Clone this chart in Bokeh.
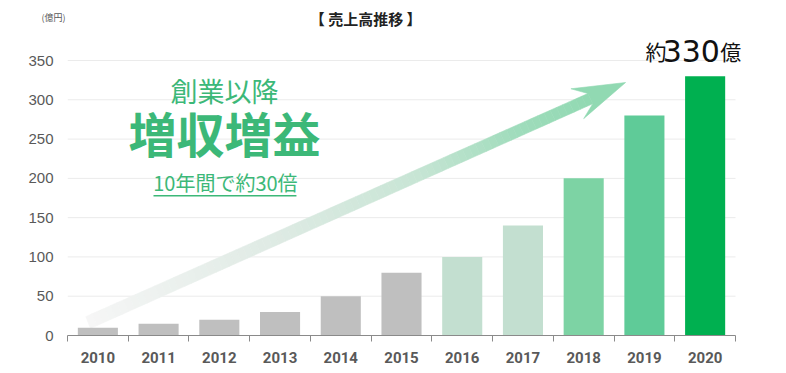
from bokeh.plotting import figure
from bokeh.models import Range1d, FixedTicker, Label, ColumnDataSource, LinearAxis
from bokeh.embed import file_html
from bokeh.resources import INLINE

# ---- data ----
years = ["2010", "2011", "2012", "2013", "2014", "2015", "2016", "2017", "2018", "2019", "2020"]
sales = [10, 15, 20, 30, 50, 80, 100, 140, 200, 280, 330]
bar_colors = ["#bfbfbf", "#bfbfbf", "#bfbfbf", "#bfbfbf", "#bfbfbf", "#bfbfbf",
              "#c3dfd0", "#c3dfd0", "#7dd3a4", "#5fcb98", "#00b050"]
y_ticks = [0, 50, 100, 150, 200, 250, 300, 350]

title_text = "【 売上高推移 】"
unit_text = "(億円)"
unit_pos = 405
line1 = "創業以降"
line2 = "増収増益"
line3 = "10年間で約30倍"
callout = ["約", "330", "億"]

# arrow decoration (data units: x = category index, y = value)
arrow_upper_tail = (-0.20, 24.0)
arrow_lower_tail = (-0.12, 9.0)
arrow_upper_notch = (8.07, 308.0)
arrow_lower_notch = (8.15, 295.0)
arrow_upper_wing = (7.79, 314.0)
arrow_lower_wing = (8.00, 276.0)
arrow_tip = (8.69, 322.0)
arrow_stops = [(0.0, (246, 246, 246)), (0.35, (224, 235, 229)), (0.65, (200, 229, 213)),
               (0.85, (160, 220, 188)), (1.0, (145, 217, 178))]

GREEN = "#3cb878"
JP = "Noto Sans CJK JP"

x_lo, x_hi = -0.5, len(years) - 0.5

p = figure(width=770, height=365, output_backend="svg", toolbar_location=None,
           x_range=Range1d(x_lo, 10.747), y_range=Range1d(0, 416.2),
           min_border_left=67, min_border_right=20, min_border_top=8, min_border_bottom=30)
p.outline_line_color = None
p.background_fill_color = "white"

# grid (manual so it stops at the last category)
p.xgrid.visible = False
p.ygrid.visible = False
p.segment(x0=[x_lo] * (len(y_ticks) - 1), x1=[x_hi] * (len(y_ticks) - 1),
          y0=y_ticks[1:], y1=y_ticks[1:], line_color="#ebebeb", line_width=1)

# y axis
p.yaxis.ticker = FixedTicker(ticks=y_ticks)
p.yaxis.axis_line_color = None
p.yaxis.major_tick_line_color = None
p.yaxis.major_tick_out = 0
p.yaxis.minor_tick_line_color = None
p.yaxis.major_label_text_font = "Liberation Sans"
p.yaxis.major_label_text_font_size = "15px"
p.yaxis.major_label_text_color = "#595959"
p.yaxis.major_label_standoff = 14

# unit label as an outer left axis
unit_axis = LinearAxis(ticker=FixedTicker(ticks=[unit_pos]),
                       major_label_overrides={unit_pos: unit_text})
unit_axis.axis_line_color = None
unit_axis.major_tick_line_color = None
unit_axis.major_tick_out = 0
unit_axis.minor_tick_line_color = None
unit_axis.major_label_text_font = JP
unit_axis.major_label_text_font_size = "9px"
unit_axis.major_label_text_color = "#595959"
unit_axis.major_label_standoff = -40
p.add_layout(unit_axis, "left")

# x axis
p.xaxis.ticker = FixedTicker(ticks=list(range(len(years))),
                             minor_ticks=[i - 0.5 for i in range(len(years) + 1)])
p.xaxis.bounds = (x_lo, x_hi)
p.xaxis.major_label_overrides = {i: y for i, y in enumerate(years)}
p.xaxis.major_tick_line_color = None
p.xaxis.major_tick_out = 0
p.xaxis.minor_tick_line_color = "#8a8a8a"
p.xaxis.minor_tick_out = 6
p.xaxis.minor_tick_in = 0
p.xaxis.axis_line_color = "#8a8a8a"
p.xaxis.major_label_text_font = "Roboto"
p.xaxis.major_label_text_font_style = "bold"
p.xaxis.major_label_text_font_size = "15px"
p.xaxis.major_label_text_color = "#595959"
p.xaxis.major_label_standoff = 10


# arrow with gradient
def lerp(a, b, t):
    return a + (b - a) * t


def color_at(t):
    for (t0, c0), (t1, c1) in zip(arrow_stops[:-1], arrow_stops[1:]):
        if t0 <= t <= t1:
            f = (t - t0) / (t1 - t0)
            r, g, b = (int(round(lerp(c0[k], c1[k], f))) for k in range(3))
            return "#%02x%02x%02x" % (r, g, b)
    c = arrow_stops[-1][1]
    return "#%02x%02x%02x" % c


N = 80
xs, ys, cols = [], [], []
for i in range(N):
    t0, t1 = i / N, (i + 1) / N
    ux0 = lerp(arrow_upper_tail[0], arrow_upper_notch[0], t0)
    uy0 = lerp(arrow_upper_tail[1], arrow_upper_notch[1], t0)
    ux1 = lerp(arrow_upper_tail[0], arrow_upper_notch[0], t1)
    uy1 = lerp(arrow_upper_tail[1], arrow_upper_notch[1], t1)
    lx0 = lerp(arrow_lower_tail[0], arrow_lower_notch[0], t0)
    ly0 = lerp(arrow_lower_tail[1], arrow_lower_notch[1], t0)
    lx1 = lerp(arrow_lower_tail[0], arrow_lower_notch[0], t1)
    ly1 = lerp(arrow_lower_tail[1], arrow_lower_notch[1], t1)
    xs.append([ux0, ux1, lx1, lx0])
    ys.append([uy0, uy1, ly1, ly0])
    cols.append(color_at((t0 + t1) / 2))
p.patches(xs=xs, ys=ys, fill_color=cols, line_color=cols, line_width=0.6)

head_col = color_at(1.0)
p.patch(x=[arrow_upper_wing[0], arrow_tip[0], arrow_lower_wing[0], arrow_lower_notch[0], arrow_upper_notch[0]],
        y=[arrow_upper_wing[1], arrow_tip[1], arrow_lower_wing[1], arrow_lower_notch[1], arrow_upper_notch[1]],
        fill_color=head_col, line_color=head_col, line_width=0.6)

# bars
src = ColumnDataSource(dict(x=list(range(len(years))), top=sales, color=bar_colors))
p.vbar(x="x", top="top", width=0.66, bottom=0, fill_color="color", line_color=None, source=src)

# texts
p.add_layout(Label(x=4.41, y=403.5, text=title_text, text_font=JP, text_font_size="15px",
                   text_font_style="bold", text_color="#222222", text_align="center",
                   text_baseline="middle"))
p.add_layout(Label(x=2.085, y=312, text=line1, text_font=JP, text_font_size="27px",
                   text_color=GREEN, text_align="center", text_baseline="middle"))
p.add_layout(Label(x=2.085, y=259, text=line2, text_font=JP, text_font_size="48px",
                   text_font_style="bold", text_color=GREEN, text_align="center",
                   text_baseline="middle"))
p.add_layout(Label(x=2.10, y=195, text=line3, text_font=JP, text_font_size="20px",
                   text_color=GREEN, text_align="center", text_baseline="middle"))
p.line(x=[0.916, 3.27], y=[178, 178], line_color=GREEN, line_width=1.5)

p.add_layout(Label(x=9.018, y=361.5, text=callout[0], text_font=JP, text_font_size="21px",
                   text_color="#111111", text_align="left", text_baseline="middle"))
p.add_layout(Label(x=9.30, y=361.5, text=callout[1], text_font="DejaVu Sans", text_font_size="30px",
                   text_color="#111111", text_align="left", text_baseline="middle"))
p.add_layout(Label(x=10.25, y=361.5, text=callout[2], text_font=JP, text_font_size="21px",
                   text_color="#111111", text_align="left", text_baseline="middle"))

open("out.html", "w").write(file_html(p, INLINE))
